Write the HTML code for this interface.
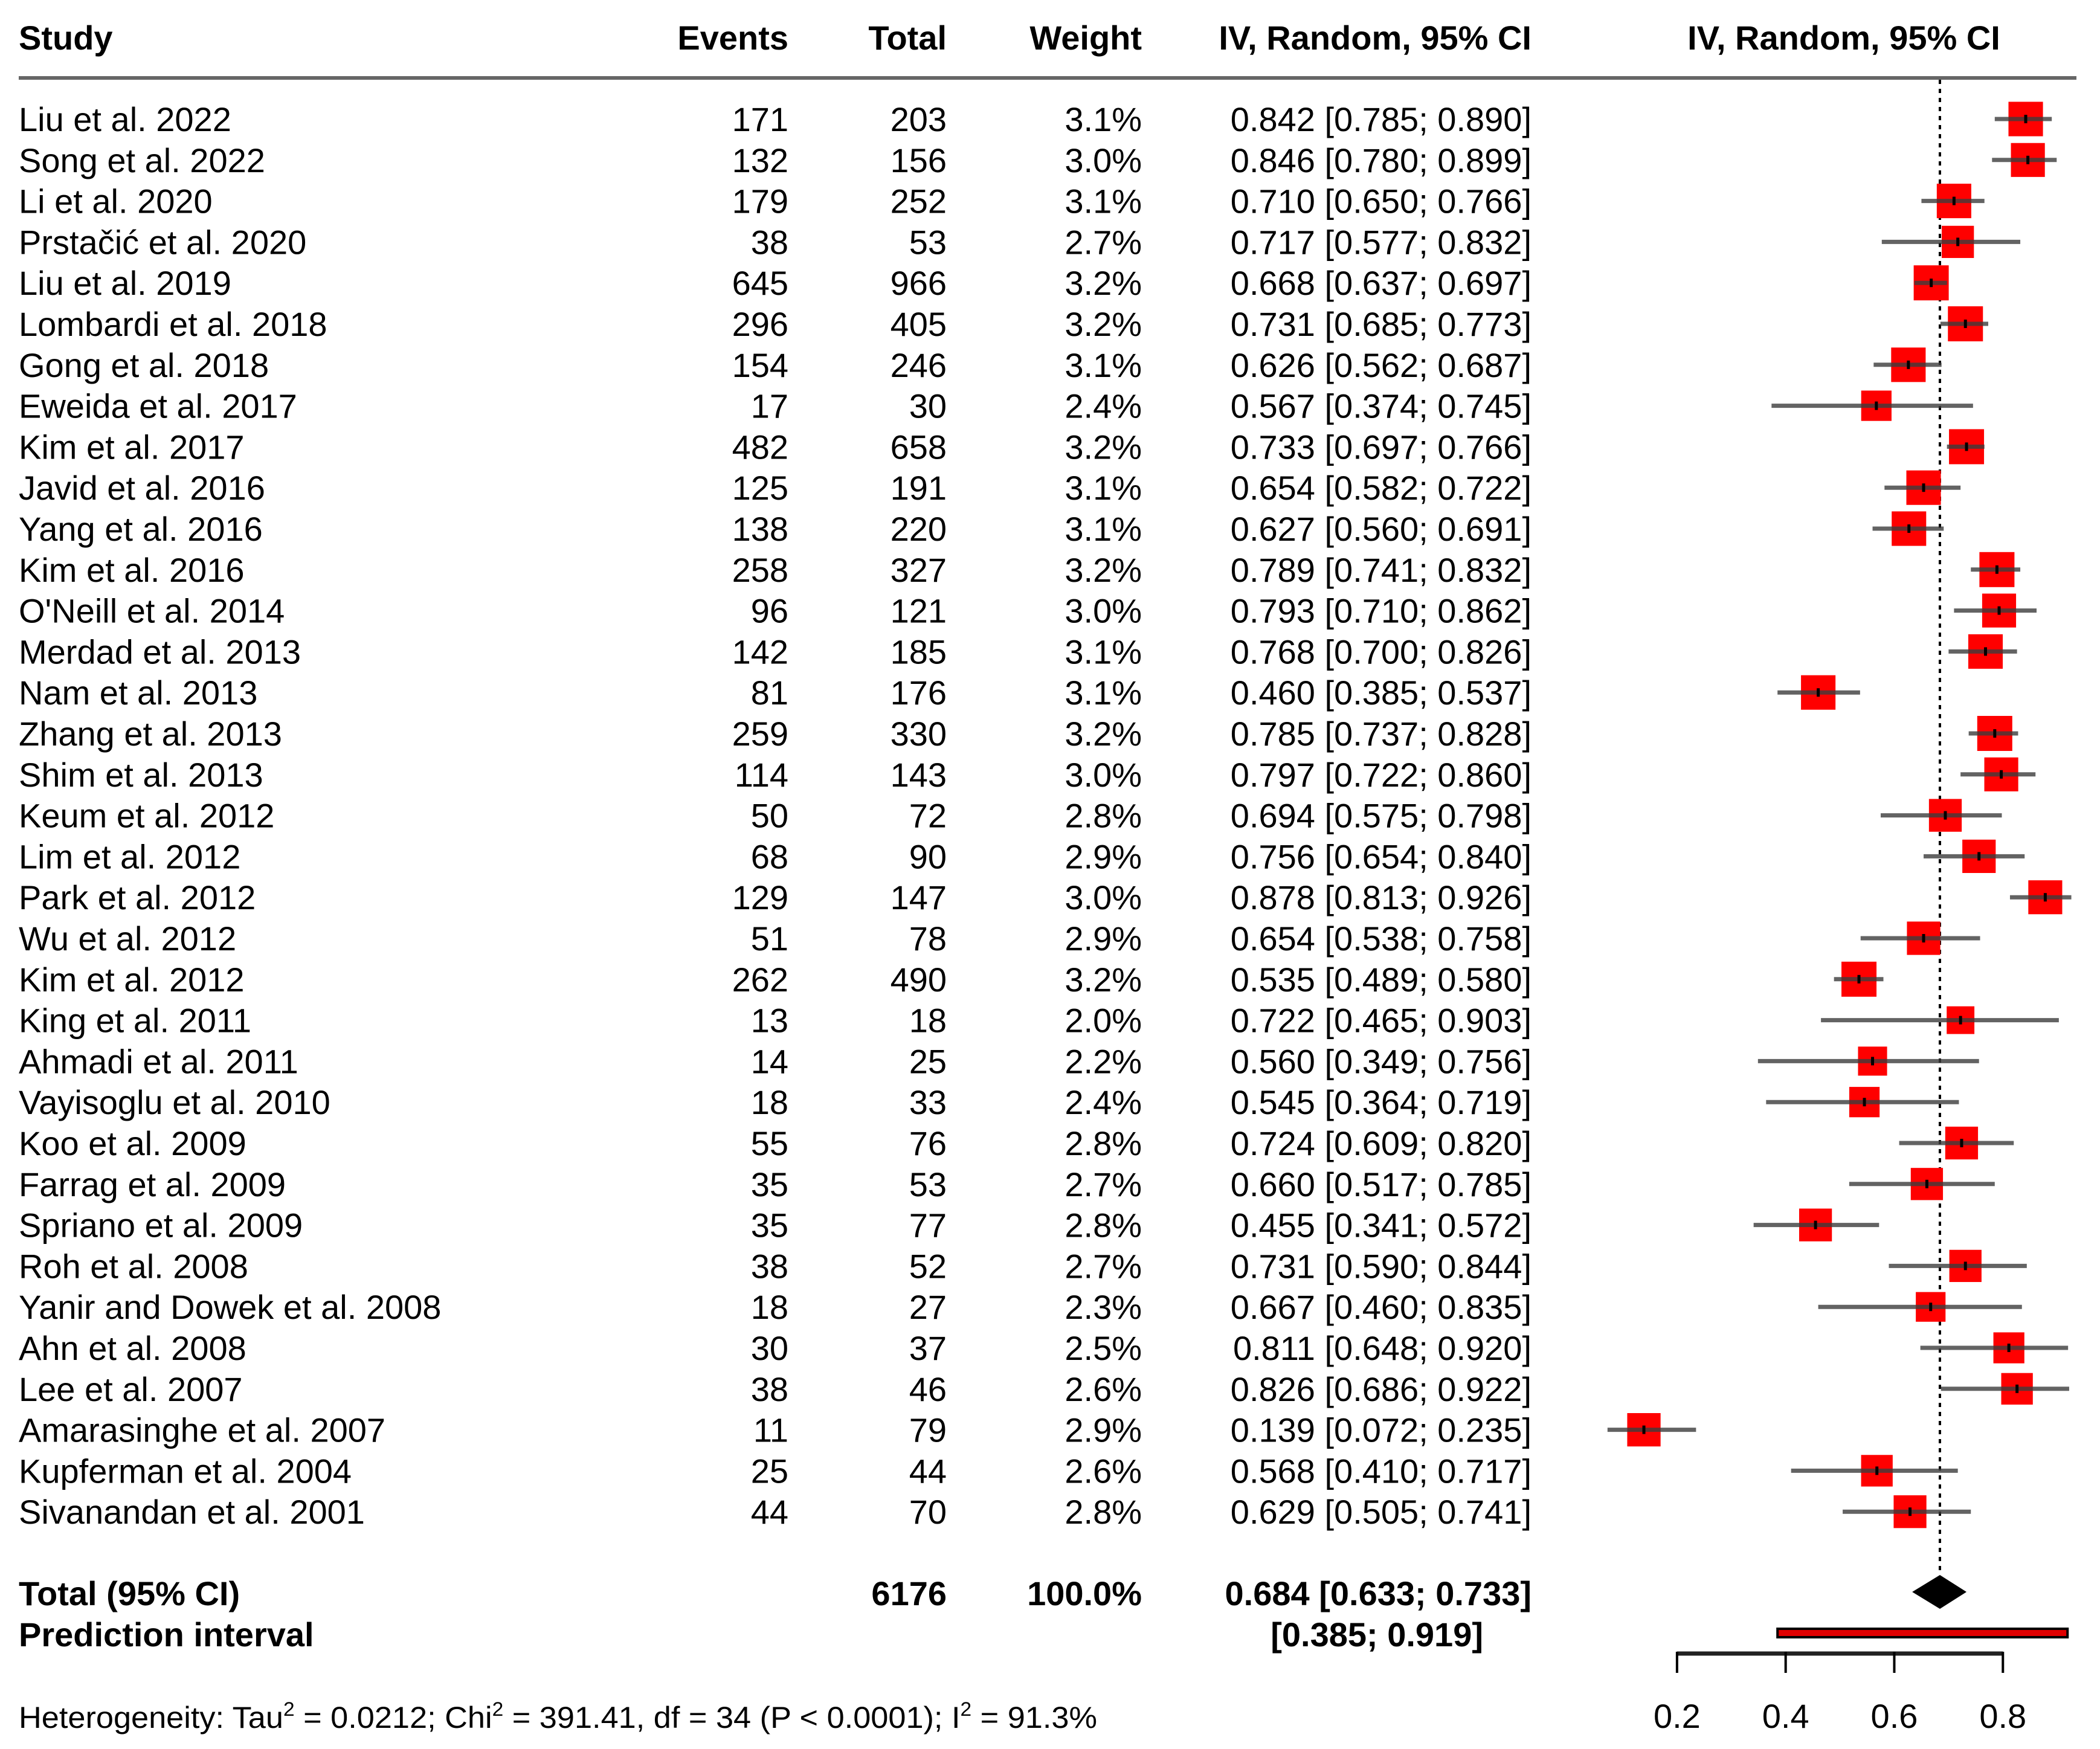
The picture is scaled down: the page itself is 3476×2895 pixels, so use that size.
<!DOCTYPE html>
<html><head><meta charset="utf-8"><style>
html,body{margin:0;padding:0;background:#fff}
svg{display:block;font-family:"Liberation Sans",Arial,sans-serif}
</style></head><body>
<svg id="chart" width="3476" height="2895" viewBox="0 0 3476 2895" xmlns="http://www.w3.org/2000/svg">
<g font-weight="bold" font-size="56" fill="#000">
<text x="31" y="82">Study</text>
<text x="1305" y="82" text-anchor="end">Events</text>
<text x="1567" y="82" text-anchor="end">Total</text>
<text x="1890" y="82" text-anchor="end">Weight</text>
<text x="2535" y="82" text-anchor="end">IV, Random, 95% CI</text>
<text x="3052" y="82" text-anchor="middle">IV, Random, 95% CI</text>
</g>
<line x1="31" y1="129" x2="3437" y2="129" stroke="#666" stroke-width="6"/>
<g id="rows"></g>
<g id="plot"></g>
<g font-weight="bold" font-size="56" fill="#000">
<text x="31" y="2657">Total (95% CI)</text>
<text x="1567" y="2657" text-anchor="end">6176</text>
<text x="1890" y="2657" text-anchor="end">100.0%</text>
<text x="2535" y="2657" text-anchor="end">0.684 [0.633; 0.733]</text>
<text x="31" y="2725">Prediction interval</text>
<text x="2455" y="2725" text-anchor="end">[0.385; 0.919]</text>
</g>
<text x="31" y="2860" font-size="50" textLength="1785" lengthAdjust="spacingAndGlyphs">Heterogeneity: Tau<tspan dy="-20" font-size="32">2</tspan><tspan dy="20"> = 0.0212; Chi</tspan><tspan dy="-20" font-size="32">2</tspan><tspan dy="20"> = 391.41, df = 34 (P &lt; 0.0001); I</tspan><tspan dy="-20" font-size="32">2</tspan><tspan dy="20"> = 91.3%</tspan></text>
</svg>
<script>
const studies=["Liu et al. 2022","Song et al. 2022","Li et al. 2020","Prstačić et al. 2020","Liu et al. 2019","Lombardi et al. 2018","Gong et al. 2018","Eweida et al. 2017","Kim et al. 2017","Javid et al. 2016","Yang et al. 2016","Kim et al. 2016","O'Neill et al. 2014","Merdad et al. 2013","Nam et al. 2013","Zhang et al. 2013","Shim et al. 2013","Keum et al. 2012","Lim et al.  2012","Park et al. 2012","Wu et al. 2012","Kim et al. 2012","King et al. 2011","Ahmadi et al. 2011","Vayisoglu et al. 2010","Koo et al. 2009","Farrag et al. 2009","Spriano et al. 2009","Roh et al. 2008","Yanir and Dowek et al. 2008","Ahn et al. 2008","Lee et al. 2007","Amarasinghe et al. 2007","Kupferman et al. 2004","Sivanandan et al. 2001"];
const events=[171,132,179,38,645,296,154,17,482,125,138,258,96,142,81,259,114,50,68,129,51,262,13,14,18,55,35,35,38,18,30,38,11,25,44];
const totals=[203,156,252,53,966,405,246,30,658,191,220,327,121,185,176,330,143,72,90,147,78,490,18,25,33,76,53,77,52,27,37,46,79,44,70];
const weights=[3.1,3.0,3.1,2.7,3.2,3.2,3.1,2.4,3.2,3.1,3.1,3.2,3.0,3.1,3.1,3.2,3.0,2.8,2.9,3.0,2.9,3.2,2.0,2.2,2.4,2.8,2.7,2.8,2.7,2.3,2.5,2.6,2.9,2.6,2.8];
const est=[0.842,0.846,0.710,0.717,0.668,0.731,0.626,0.567,0.733,0.654,0.627,0.789,0.793,0.768,0.460,0.785,0.797,0.694,0.756,0.878,0.654,0.535,0.722,0.560,0.545,0.724,0.660,0.455,0.731,0.667,0.811,0.826,0.139,0.568,0.629];
const lower=[0.785,0.780,0.650,0.577,0.637,0.685,0.562,0.374,0.697,0.582,0.560,0.741,0.710,0.700,0.385,0.737,0.722,0.575,0.654,0.813,0.538,0.489,0.465,0.349,0.364,0.609,0.517,0.341,0.590,0.460,0.648,0.686,0.072,0.410,0.505];
const upper=[0.890,0.899,0.766,0.832,0.697,0.773,0.687,0.745,0.766,0.722,0.691,0.832,0.862,0.826,0.537,0.828,0.860,0.798,0.840,0.926,0.758,0.580,0.903,0.756,0.719,0.820,0.785,0.572,0.844,0.835,0.920,0.922,0.235,0.717,0.741];
const pooled=[0.684,0.633,0.733];
const predInt=[0.385,0.919];
const ticks=[0.2,0.4,0.6,0.8];

const NS="http://www.w3.org/2000/svg";
const X=v=>3211+(v-0.684)*899;
const Y=i=>197+i*67.8;
const XMAX=3440;
function mk(tag,attrs,parent,txt){const e=document.createElementNS(NS,tag);for(const k in attrs)e.setAttribute(k,attrs[k]);if(txt!==undefined)e.textContent=txt;parent.appendChild(e);return e;}
const rows=document.getElementById('rows'), plot=document.getElementById('plot');
const f3=v=>v.toFixed(3);
studies.forEach((s,i)=>{
  const y=Y(i)+20;
  const g=mk('g',{'font-size':56,fill:'#000'},rows);
  
  
  let t=mk('text',{x:31,y:y},g,s);
  
  t=mk('text',{x:1305,y:y,'text-anchor':'end'},g,String(events[i]));
  
  t=mk('text',{x:1567,y:y,'text-anchor':'end'},g,String(totals[i]));
  
  t=mk('text',{x:1890,y:y,'text-anchor':'end'},g,weights[i].toFixed(1)+'%');
  
  t=mk('text',{x:2535,y:y,'text-anchor':'end'},g,f3(est[i])+' ['+f3(lower[i])+'; '+f3(upper[i])+']');
  
});
let dl=mk('line',{x1:X(pooled[0]),y1:132,x2:X(pooled[0]),y2:2607,stroke:'#000','stroke-width':4,'stroke-dasharray':'7 8'},plot);

studies.forEach((s,i)=>{
  const cy=Y(i), cx=X(est[i]);
  const side=58*Math.sqrt(weights[i]/3.2);
  let sq=mk('rect',{x:cx-side/2,y:cy-side/2,width:side,height:side,fill:'#ff0000'},plot);
  
  let ln=mk('line',{x1:Math.max(X(lower[i]),2600),y1:cy,x2:Math.min(X(upper[i]),XMAX),y2:cy,stroke:'rgba(60,60,60,0.8)','stroke-width':7},plot);
  
  let tk=mk('line',{x1:cx,y1:cy-7,x2:cx,y2:cy+7,stroke:'#000','stroke-width':5},plot);
  
});
const dy=2635;
let dm=mk('polygon',{points:`${X(pooled[1])},${dy} ${X(pooled[0])},${dy-28} ${X(pooled[2])},${dy} ${X(pooled[0])},${dy+28}`,fill:'#000'},plot);

let pi=mk('rect',{x:X(predInt[0]),y:2696,width:X(predInt[1])-X(predInt[0]),height:14,fill:'#e00000',stroke:'#000','stroke-width':4},plot);

let ax=mk('line',{x1:X(ticks[0]),y1:2737,x2:X(ticks[ticks.length-1]),y2:2737,stroke:'#222','stroke-width':7},plot);

ticks.forEach(v=>{
  let tl=mk('line',{x1:X(v),y1:2734,x2:X(v),y2:2769,stroke:'#000','stroke-width':4},plot);
  
  let tt=mk('text',{x:X(v),y:2860,'text-anchor':'middle','font-size':56,fill:'#000'},plot,String(v));
  
});
</script>
</body></html>
